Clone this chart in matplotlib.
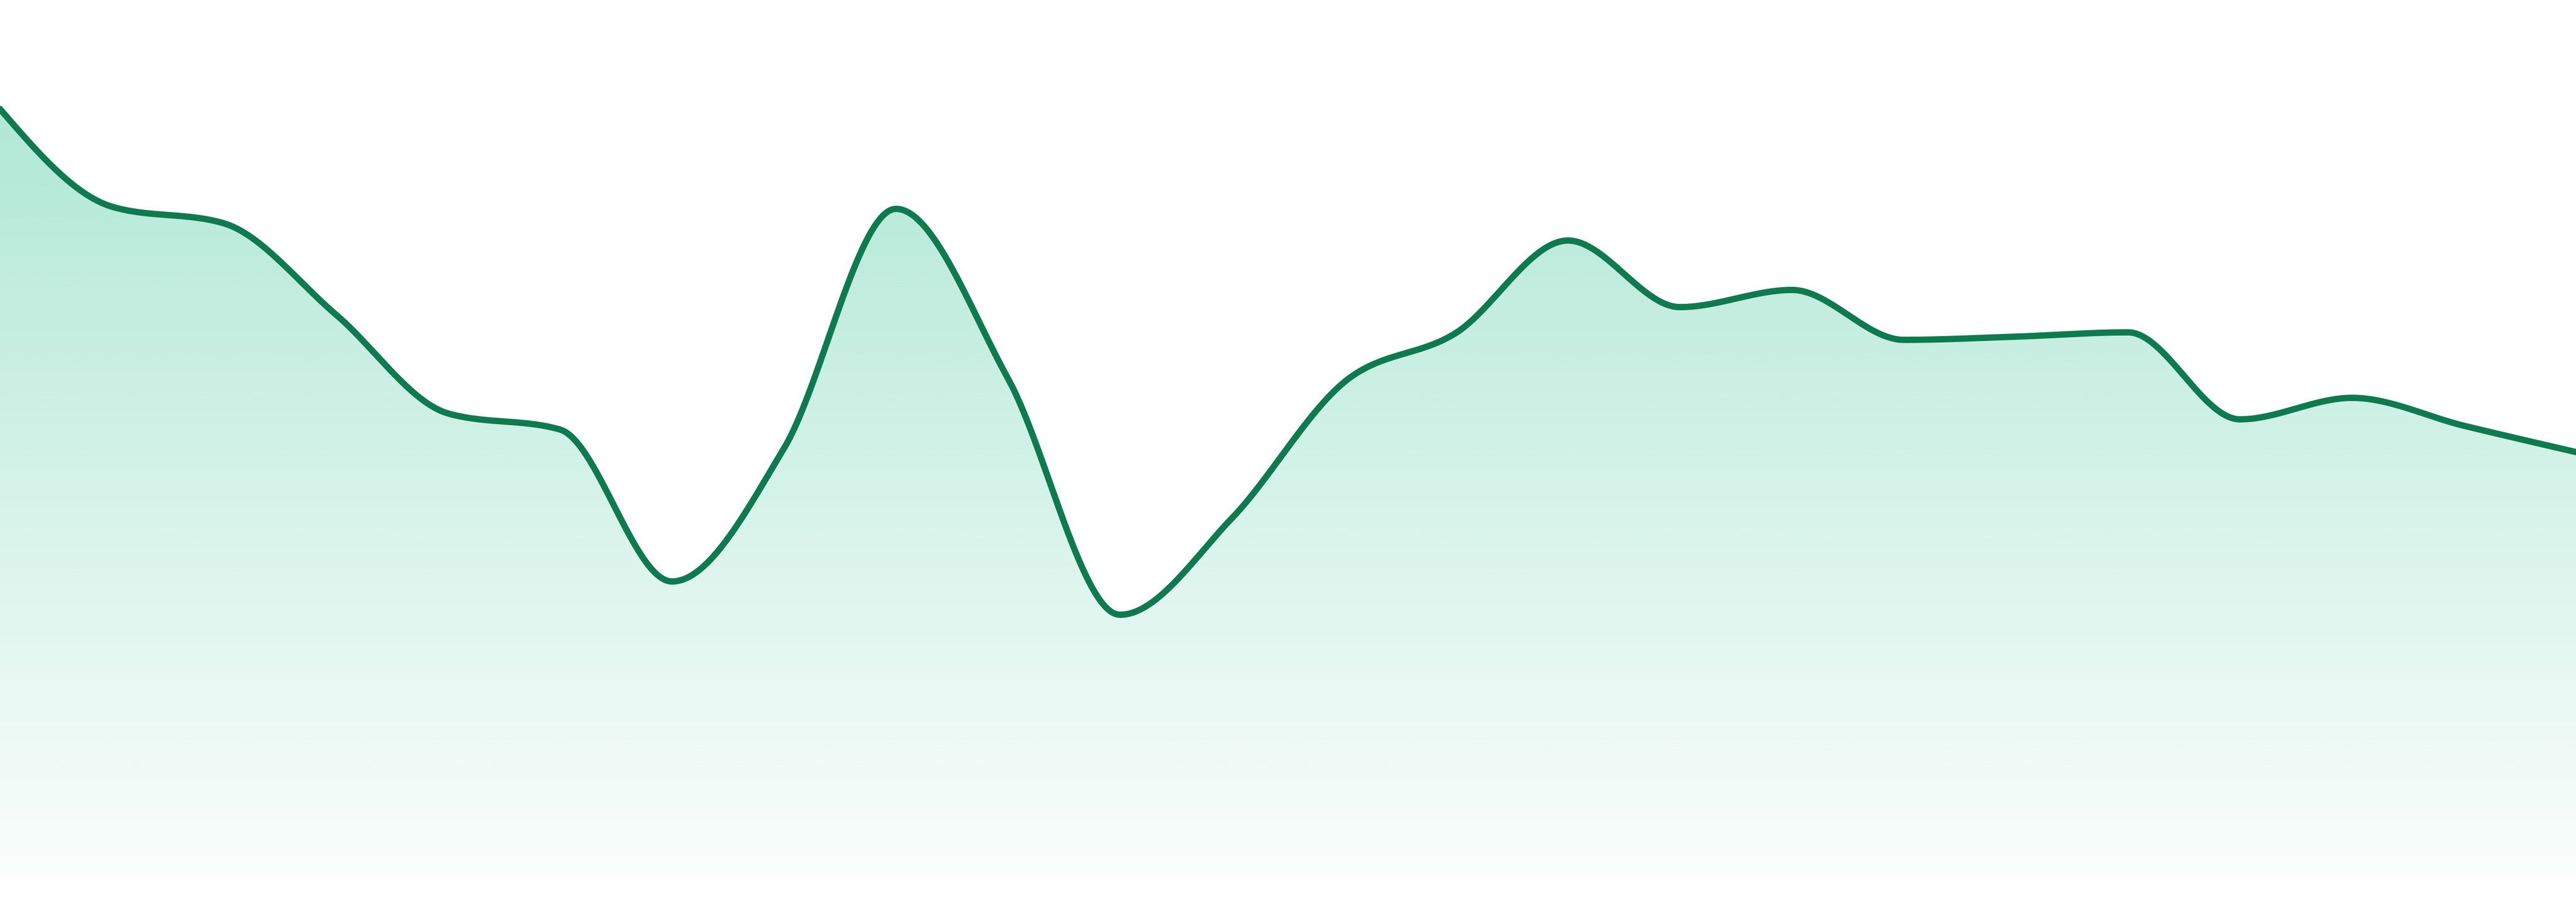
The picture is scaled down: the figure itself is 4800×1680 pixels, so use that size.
import numpy as np
import matplotlib
matplotlib.use("Agg")
import matplotlib.pyplot as plt
from matplotlib.colors import to_rgb

# ---- data (24 equally spaced observations) ----
index = list(range(24))
values = [142.9, 124.7, 121.6, 104.6, 86.2, 83.2, 54.9, 79.7, 124.3, 92.7,
          48.7, 66.7, 92.0, 101.2, 118.4, 106.0, 109.2, 99.9, 100.5, 101.3,
          85.1, 89.1, 83.9, 79.0]

line_color = "#0f7a4f"
fill_color = "#10b981"


def monotone_x(x, y, per_seg=60):
    """Monotone cubic interpolation (same scheme as d3.curveMonotoneX)."""
    x = np.asarray(x, float)
    y = np.asarray(y, float)
    n = len(x)
    h = np.diff(x)
    s = np.diff(y) / h
    t = np.zeros(n)
    sgn = lambda v: -1.0 if v < 0 else 1.0
    for i in range(1, n - 1):
        p = (s[i - 1] * h[i] + s[i] * h[i - 1]) / (h[i - 1] + h[i])
        t[i] = (sgn(s[i - 1]) + sgn(s[i])) * min(abs(s[i - 1]), abs(s[i]), 0.5 * abs(p))
    t[0] = (3 * s[0] - t[1]) / 2
    t[-1] = (3 * s[-1] - t[-2]) / 2
    xs, ys = [], []
    for i in range(n - 1):
        u = np.linspace(0, 1, per_seg, endpoint=(i == n - 2))
        h00 = 2 * u**3 - 3 * u**2 + 1
        h10 = u**3 - 2 * u**2 + u
        h01 = -2 * u**3 + 3 * u**2
        h11 = u**3 - u**2
        xs.append(x[i] + u * h[i])
        ys.append(h00 * y[i] + h10 * h[i] * t[i] + h01 * y[i + 1] + h11 * h[i] * t[i + 1])
    return np.concatenate(xs), np.concatenate(ys)


xs, ys = monotone_x(index, values)

fig = plt.figure(figsize=(48, 16.8), dpi=100)
ax = fig.add_axes([0, 0, 1, 1])
ax.set_xlim(0, 23)
ax.set_ylim(-4.8, 163.2)
ax.axis("off")

# gradient fill under the curve
poly = ax.fill_between(xs, ys, 0, color="none", lw=0)
ymax = max(values)
grad_n = 512
alpha = np.linspace(0.02, 0.33, grad_n)[:, None]
rgb = np.array(to_rgb(fill_color))
img = np.ones((grad_n, 1, 4))
img[:, :, :3] = rgb
img[:, :, 3] = alpha
im = ax.imshow(img, extent=[0, 23, 0, ymax], origin="lower", aspect="auto",
               interpolation="bilinear", zorder=1)
path = poly.get_paths()[0]
im.set_clip_path(path, transform=ax.transData)

ax.plot(xs, ys, color=line_color, lw=8.5, solid_capstyle="round",
        solid_joinstyle="round", zorder=3)

fig.savefig("out.png", dpi=100, facecolor="white")
